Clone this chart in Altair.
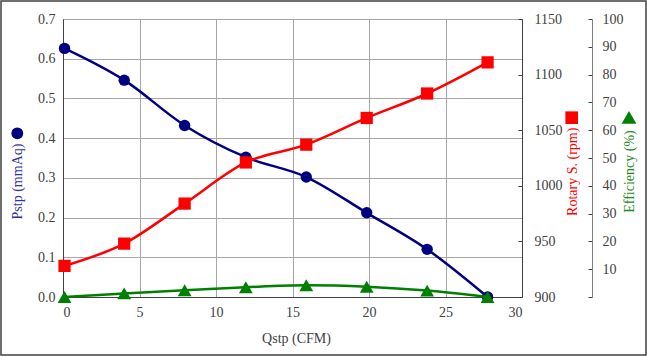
import altair as alt
import pandas as pd

# ---- data ----
qstp = [0.1, 4.0, 7.95, 11.95, 15.9, 19.85, 23.8, 27.75]
pstp = [0.626, 0.546, 0.432, 0.352, 0.302, 0.212, 0.120, 0.0]
rotary = [928, 948, 984, 1021, 1037, 1061, 1083, 1111]
efficiency = [0.0, 1.3, 2.4, 3.5, 4.2, 3.7, 2.3, 0.0]

x_ticks = [0, 5, 10, 15, 20, 25, 30]
p_ticks = [0.0, 0.1, 0.2, 0.3, 0.4, 0.5, 0.6, 0.7]
r_ticks = [900, 950, 1000, 1050, 1100, 1150]
e_ticks = [0, 10, 20, 30, 40, 50, 60, 70, 80, 90, 100]

df = pd.DataFrame({"Qstp": qstp, "Pstp": pstp, "Rotary": rotary, "Eff": efficiency})
one = pd.DataFrame({"k": [0]})

FONT = "Liberation Serif"
TXT = "#404040"
NAVY = "#000080"
RED = "#ff0000"
GREEN = "#008000"

W, H = 459, 278

font_common = dict(labelFont=FONT, titleFont=FONT, labelFontSize=14, titleFontSize=14,
                   labelColor=TXT, titleFontWeight="normal")


def xenc():
    return alt.X(
        "Qstp:Q",
        scale=alt.Scale(domain=[0, 30], nice=False, zero=False),
        axis=alt.Axis(values=x_ticks, title="Qstp (CFM)", grid=True, ticks=False,
                      labelPadding=8, titleY=41, titleX=233, titleBaseline="middle",
                      titleAlign="center", format="d", titleColor=TXT, **font_common),
    )


title_common = dict(titleAngle=270, titleAlign="center", titleBaseline="middle")

blue_y = alt.Y(
    "Pstp:Q",
    scale=alt.Scale(domain=[0, 0.7], nice=False, zero=False),
    axis=alt.Axis(orient="left", values=p_ticks, format=".1f", title="Pstp (mmAq)",
                  titleColor="#333399", titleX=-45.7, titleY=162, grid=True, ticks=False,
                  labelPadding=8, **title_common, **font_common),
)
red_y = alt.Y(
    "Rotary:Q",
    scale=alt.Scale(domain=[900, 1150], nice=False, zero=False),
    axis=alt.Axis(orient="left", offset=-W, values=r_ticks, format="d", title="Rotary S. (rpm)",
                  titleColor=RED, titleX=50.7, titleY=152.3, grid=False, ticks=True, tickSize=4,
                  labelAlign="left", labelPadding=-16, **title_common, **font_common),
)
green_y = alt.Y(
    "Eff:Q",
    scale=alt.Scale(domain=[0, 100], nice=False, zero=False),
    axis=alt.Axis(orient="left", offset=-529, values=e_ticks, format="d", title="Efficiency (%)",
                  titleColor="#1f8a1f", titleX=37.3, titleY=152, grid=False, ticks=True, tickSize=4,
                  labelAlign="left", labelPadding=-14, domainColor="#808080",
                  labelExpr="datum.value == 0 ? '' : datum.label", **title_common, **font_common),
)

base = alt.Chart(df)

blue = alt.layer(
    base.mark_line(color=NAVY, strokeWidth=2.5, interpolate="monotone").encode(x=xenc(), y=blue_y),
    base.mark_point(filled=True, shape="circle", size=130, color=NAVY, opacity=1).encode(x=xenc(), y=blue_y),
)
red = alt.layer(
    base.mark_line(color=RED, strokeWidth=2.5, interpolate="monotone").encode(x=xenc(), y=red_y),
    base.mark_point(filled=True, shape="square", size=150, color=RED, opacity=1).encode(x=xenc(), y=red_y),
)
green = alt.layer(
    base.mark_line(color=GREEN, strokeWidth=2.5, interpolate="monotone").encode(x=xenc(), y=green_y),
    base.mark_point(filled=True, shape="triangle-up", size=190, color=GREEN, opacity=1).encode(x=xenc(), y=green_y),
)

sym = alt.Chart(one)
sym_circle = sym.mark_point(filled=True, shape="circle", size=140, color=NAVY, opacity=1).encode(
    x=alt.value(-45.7), y=alt.value(114.3))
sym_square = sym.mark_point(filled=True, shape="square", size=160, color=RED, opacity=1).encode(
    x=alt.value(508.7), y=alt.value(98.7))
sym_tri = sym.mark_point(filled=True, shape="triangle-up", size=220, color=GREEN, opacity=1).encode(
    x=alt.value(566), y=alt.value(98.3))
border = sym.mark_rect(fillOpacity=0, stroke="#404040", strokeWidth=1.5).encode(
    x=alt.value(-62), x2=alt.value(583), y=alt.value(-18), y2=alt.value(336))

chart = alt.layer(blue, red, green, sym_circle, sym_square, sym_tri, border).resolve_scale(
    y="independent"
).properties(
    width=W, height=H,
    autosize=alt.AutoSizeParams(type="none"),
    padding={"left": 63, "top": 19, "right": 125, "bottom": 59},
    background="white",
).configure_view(
    stroke="#595959", strokeWidth=1
).configure_axis(
    labelFont=FONT, titleFont=FONT, labelFontSize=14, titleFontSize=14,
    labelColor=TXT, titleColor=TXT, titleFontWeight="normal",
    domainColor="#404040", tickColor="#404040", gridColor="#a6a6a6", gridWidth=1,
)

chart.save("out.html", embed_options={"renderer": "svg", "actions": False})
